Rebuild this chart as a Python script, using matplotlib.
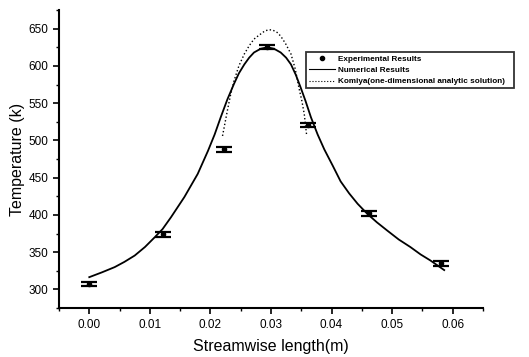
import numpy as np
import matplotlib
matplotlib.use('Agg')
import matplotlib.pyplot as plt
from matplotlib.ticker import MultipleLocator, FormatStrFormatter
from matplotlib.lines import Line2D

plt.rcParams['font.family'] = ['Liberation Sans', 'DejaVu Sans']

# experimental points
exp_x   = [0.0, 0.0121, 0.0222, 0.0293, 0.0361, 0.0462, 0.0581]
exp_T   = [307, 374, 488, 625, 521, 402, 335]
exp_err = [3, 3, 3, 3, 3, 3, 3]

# numerical results (solid)
num_x = [0.0, 0.0021, 0.0042, 0.0058, 0.0075, 0.0092, 0.0108, 0.0121, 0.0135,
         0.0157, 0.0179, 0.0196, 0.0207, 0.0217, 0.0228, 0.0239, 0.0247, 0.0256,
         0.0264, 0.0272, 0.0283, 0.0294, 0.0305, 0.0316, 0.0325, 0.0333, 0.0341,
         0.0349, 0.0357, 0.0366, 0.0377, 0.0388, 0.0402, 0.0415, 0.0429, 0.0443,
         0.0459, 0.0475, 0.0492, 0.0511, 0.0530, 0.0547, 0.0563, 0.0586]
num_T = [316.5, 323, 330, 337, 345.5, 357, 370, 381, 397,
         424, 455, 486, 508, 531, 555, 576, 590, 602,
         611, 618, 623, 625, 623, 618, 611, 602, 588,
         571, 553, 531, 508, 488, 466, 445, 429, 415,
         401.5, 390, 379, 367, 357, 347, 339, 326]

# Komiya one-dimensional analytic solution (dotted)
kom_x = [0.0220, 0.0228, 0.0233, 0.0239, 0.0247, 0.0256, 0.0264, 0.0272, 0.0280,
         0.0290, 0.0297, 0.0303, 0.0310, 0.0316, 0.0324, 0.0333, 0.0340, 0.0346,
         0.0351, 0.0355, 0.0359]
kom_T = [506, 540, 560, 580, 600, 616, 627, 636, 641,
         647, 648.5, 648, 645, 640, 630, 616, 596, 571,
         553, 535, 506]

fig = plt.figure(figsize=(5.29, 3.57), dpi=100)
ax = fig.add_axes([0.1115, 0.137, 0.8015, 0.835])

ax.errorbar(exp_x, exp_T, yerr=exp_err, fmt='o', color='black', ms=3,
            capsize=5.5, capthick=1.6, elinewidth=1.2)
ax.plot(num_x, num_T, '-', color='black', linewidth=1.3)
ax.plot(kom_x, kom_T, ':', color='black', linewidth=1.0)

ax.set_xlim(-0.005, 0.065)
ax.set_ylim(275, 675)
ax.xaxis.set_major_locator(MultipleLocator(0.01))
ax.xaxis.set_minor_locator(MultipleLocator(0.005))
ax.yaxis.set_major_locator(MultipleLocator(50))
ax.yaxis.set_minor_locator(MultipleLocator(25))
ax.xaxis.set_major_formatter(FormatStrFormatter('%.2f'))
ax.tick_params(which='major', direction='out', length=4, width=1.2, labelsize=8.5)
ax.tick_params(which='minor', direction='out', length=2.5, width=1.0)

ax.spines['top'].set_visible(False)
ax.spines['right'].set_visible(False)
ax.spines['left'].set_linewidth(1.5)
ax.spines['bottom'].set_linewidth(1.5)

ax.set_xlabel('Streamwise length(m)', fontsize=11.5, labelpad=6)
ax.set_ylabel('Temperature (k)', fontsize=11.5, labelpad=3)

handles = [Line2D([], [], marker='o', ms=3, ls='none', color='black'),
           Line2D([], [], ls='-', lw=0.8, color='black'),
           Line2D([], [], ls=':', lw=0.8, color='black')]
labels = ['Experimental Results', 'Numerical Results',
          'Komiya(one-dimensional analytic solution)   ']
leg = ax.legend(handles, labels, loc='upper left', bbox_to_anchor=(0.583, 0.859),
                fontsize=5.9, frameon=True, fancybox=False, edgecolor='black',
                handlelength=3.2, handletextpad=0.3, borderpad=0.35,
                labelspacing=0.45, borderaxespad=0)
leg.get_frame().set_linewidth(1.3)
for t in leg.get_texts():
    t.set_fontweight('bold')

fig.savefig('out.png', dpi=100)
